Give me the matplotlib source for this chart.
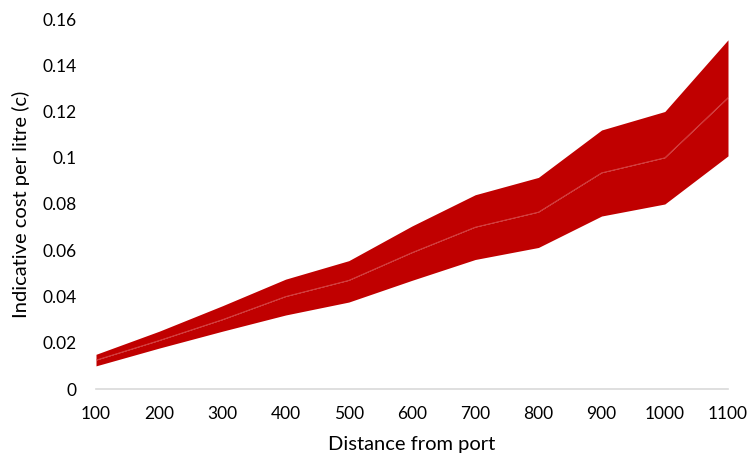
import numpy as np
import matplotlib.pyplot as plt
from matplotlib.ticker import FuncFormatter

# Date
distanta = [100, 200, 300, 400, 500, 600, 700, 800, 900, 1000, 1100]
cost_min = [0.0100, 0.0177, 0.0250, 0.0320, 0.0376, 0.0470, 0.0560, 0.0612, 0.0748, 0.0800, 0.1008]
cost_mediu = [0.0125, 0.0210, 0.0300, 0.0400, 0.0470, 0.0590, 0.0700, 0.0765, 0.0935, 0.1000, 0.1260]
cost_max = [0.0150, 0.0250, 0.0360, 0.0475, 0.0555, 0.0705, 0.0840, 0.0915, 0.1120, 0.1200, 0.1510]

plt.rcParams['font.family'] = ['Lato', 'DejaVu Sans']

fig = plt.figure(figsize=(7.51, 4.61), dpi=100)
ax = fig.add_axes([96 / 751, 1 - 389 / 461, (728 - 96) / 751, (389 - 19) / 461])

culoare = '#C00000'
ax.fill_between(distanta, cost_min, cost_mediu, color=culoare, linewidth=0)
ax.fill_between(distanta, cost_mediu, cost_max, color=culoare, linewidth=0)
ax.plot(distanta, cost_mediu, color='#D85050', linewidth=0.5)

ax.set_xlim(100, 1100)
ax.set_ylim(0, 0.16)
ax.set_xticks(distanta)
ax.set_yticks(np.arange(0, 0.161, 0.02))
ax.yaxis.set_major_formatter(FuncFormatter(lambda v, p: f'{round(v, 2):g}'))

for s in ['top', 'right', 'left']:
    ax.spines[s].set_visible(False)
ax.spines['bottom'].set_color('#D9D9D9')
ax.spines['bottom'].set_linewidth(1.2)
ax.tick_params(length=0, labelsize=12.5, colors='#000000')
ax.tick_params(axis='x', pad=12)
ax.tick_params(axis='y', pad=14)

ax.set_xlabel('Distance from port', fontsize=14.5, labelpad=10)
ax.set_ylabel('Indicative cost per litre (c)', fontsize=14.5, labelpad=9)

fig.savefig('out.png', dpi=100)
